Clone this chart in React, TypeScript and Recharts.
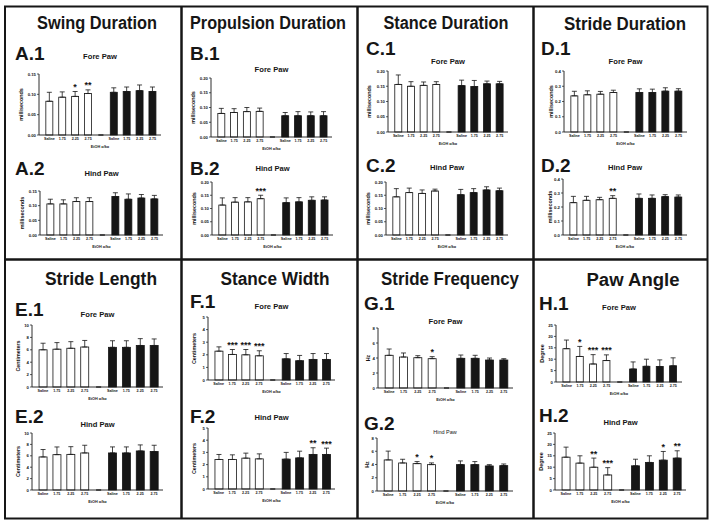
import React from 'react';
import { BarChart, Bar, XAxis, YAxis, ErrorBar } from 'recharts';

const doses = ['Saline', '1.75', '2.25', '2.75'];

// tick sets
const ticksMs15 = [0, 0.05, 0.1, 0.15];
const ticksMs20 = [0, 0.05, 0.1, 0.15, 0.2];
const ticksStride = [0, 0.1, 0.2, 0.3, 0.4];
const ticksLength = [0, 2, 4, 6, 8, 10];
const ticksWidth = [0, 1, 2, 3, 4, 5];
const ticksFreq = [0, 2, 4, 6, 8];
const ticksAngle = [0, 5, 10, 15, 20, 25];

// first 4 = white bars (saline + doses), last 4 = black bars
const swingForeMean = [0.083, 0.093, 0.095, 0.102, 0.105, 0.107, 0.109, 0.107];
const swingForeSd = [0.022, 0.013, 0.012, 0.009, 0.011, 0.011, 0.014, 0.011];
const swingForeSig = ['', '', '*', '**', '', '', '', ''];
const swingHindMean = [0.106, 0.106, 0.114, 0.114, 0.131, 0.122, 0.126, 0.123];
const swingHindSd = [0.016, 0.014, 0.013, 0.013, 0.013, 0.018, 0.012, 0.012];
const swingHindSig = ['', '', '', '', '', '', '', ''];

const propForeMean = [0.08, 0.083, 0.086, 0.087, 0.072, 0.072, 0.072, 0.072];
const propForeSd = [0.017, 0.013, 0.014, 0.011, 0.011, 0.014, 0.013, 0.014];
const propForeSig = ['', '', '', '', '', '', '', ''];
const propHindMean = [0.113, 0.124, 0.125, 0.137, 0.122, 0.125, 0.131, 0.132];
const propHindSd = [0.027, 0.017, 0.016, 0.013, 0.018, 0.016, 0.013, 0.012];
const propHindSig = ['', '', '', '***', '', '', '', ''];

const stanceForeMean = [0.156, 0.15, 0.153, 0.156, 0.152, 0.149, 0.158, 0.158];
const stanceForeSd = [0.031, 0.015, 0.011, 0.009, 0.018, 0.02, 0.009, 0.008];
const stanceForeSig = ['', '', '', '', '', '', '', ''];
const stanceHindMean = [0.144, 0.16, 0.157, 0.166, 0.152, 0.16, 0.17, 0.167];
const stanceHindSd = [0.031, 0.017, 0.013, 0.007, 0.02, 0.015, 0.012, 0.01];
const stanceHindSig = ['', '', '', '', '', '', '', ''];

const strideForeMean = [0.237, 0.244, 0.248, 0.259, 0.259, 0.259, 0.268, 0.268];
const strideForeSd = [0.03, 0.026, 0.018, 0.015, 0.024, 0.022, 0.022, 0.016];
const strideForeSig = ['', '', '', '', '', '', '', ''];
const strideHindMean = [0.231, 0.248, 0.252, 0.262, 0.262, 0.262, 0.274, 0.271];
const strideHindSd = [0.045, 0.028, 0.017, 0.019, 0.031, 0.024, 0.014, 0.015];
const strideHindSig = ['', '', '', '**', '', '', '', ''];

const lengthForeMean = [6.0, 6.1, 6.25, 6.45, 6.4, 6.4, 6.7, 6.7];
const lengthForeSd = [1.06, 1.06, 1.06, 1.06, 1.06, 1.06, 1.1, 1.05];
const lengthForeSig = ['', '', '', '', '', '', '', ''];
const lengthHindMean = [5.8, 6.2, 6.25, 6.5, 6.5, 6.5, 6.85, 6.75];
const lengthHindSd = [1.3, 1.35, 1.35, 1.35, 1.06, 1.06, 1.06, 1.1];
const lengthHindSig = ['', '', '', '', '', '', '', ''];

const widthForeMean = [2.29, 2.03, 2.0, 1.92, 1.68, 1.53, 1.63, 1.63];
const widthForeSd = [0.34, 0.39, 0.42, 0.4, 0.42, 0.42, 0.47, 0.47];
const widthForeSig = ['', '***', '***', '***', '', '', '', ''];
const widthHindMean = [2.42, 2.42, 2.53, 2.47, 2.45, 2.55, 2.83, 2.83];
const widthHindSd = [0.41, 0.38, 0.41, 0.41, 0.55, 0.55, 0.55, 0.52];
const widthHindSig = ['', '', '', '', '', '', '**', '***'];

const freqForeMean = [4.36, 4.13, 4.04, 3.91, 3.96, 3.96, 3.73, 3.73];
const freqForeSd = [0.84, 0.54, 0.27, 0.27, 0.44, 0.4, 0.27, 0.18];
const freqForeSig = ['', '', '', '*', '', '', '', ''];
const freqHindMean = [4.69, 4.23, 4.13, 3.98, 3.98, 3.98, 3.78, 3.83];
const freqHindSd = [1.33, 0.56, 0.31, 0.26, 0.56, 0.46, 0.2, 0.25];
const freqHindSig = ['', '', '*', '*', '', '', '', ''];

const angleForeMean = [14.6, 11.2, 7.9, 9.4, 5.7, 6.9, 6.8, 7.1];
const angleForeSd = [3.8, 4.4, 4.1, 2.5, 3.1, 3.1, 2.9, 3.5];
const angleForeSig = ['', '*', '***', '***', '', '', '', ''];
const angleHindMean = [14.4, 11.8, 10.0, 6.6, 10.6, 12.1, 13.1, 14.0];
const angleHindSd = [4.4, 3.2, 4.0, 3.2, 2.9, 2.9, 3.8, 3.2];
const angleHindSig = ['', '', '**', '***', '', '', '*', '**'];

const INK = '#161616';
const FONT = '"Liberation Sans", Arial, sans-serif';

type Row = { name: string; mean: number; err: [number, number]; sig: string; black: boolean };

function buildRows(mean: number[], sd: number[], sig: string[]): Row[] {
  const rows: Row[] = [];
  mean.forEach((m, i) => {
    if (i === 4) rows.push({ name: '', mean: 0, err: [0, 0], sig: '', black: false });
    rows.push({ name: doses[i % 4], mean: m, err: [0, sd[i]], sig: sig[i], black: i >= 4 });
  });
  return rows;
}

const BarShape = (p: any) => {
  const { x, y, width, height, payload } = p;
  if (!payload || !payload.mean || !height || height <= 0) return null;
  const k = height / payload.mean;
  const errTop = y - payload.err[1] * k;
  return (
    <g>
      <rect
        x={x}
        y={y}
        width={width}
        height={height}
        fill={payload.black ? INK : '#fff'}
        stroke={INK}
        strokeWidth={0.8}
      />
      {payload.sig ? (
        <text
          x={x + width / 2}
          y={errTop - 1.5}
          textAnchor="middle"
          fontSize={9}
          fontWeight="bold"
          fill={INK}
          style={{ fill: INK }}
        >
          {payload.sig}
        </text>
      ) : null}
    </g>
  );
};

type SubProps = {
  left: number; right: number; top: number; bottom: number;
  ticks: number[]; dec: number; yLabel: string; yl: number;
  mean: number[]; sd: number[]; sig: string[];
  sub: string; subY: number; subSize?: number;
};

const YW = 22;
const MT = 3;
const XH = 13;

function SubChart(s: SubProps) {
  const rows = buildRows(s.mean, s.sd, s.sig);
  const w = s.right - s.left + YW + 1;
  const h = s.bottom - s.top + MT + XH;
  const max = s.ticks[s.ticks.length - 1];
  return (
    <>
      <div
        style={{
          position: 'absolute',
          left: 0,
          width: (s.left + s.right),
          top: s.subY - (s.subSize ?? 7.6) * 0.82,
          textAlign: 'center',
          fontSize: s.subSize ?? 7.6,
          fontWeight: s.subSize ? 'normal' : 'bold',
          lineHeight: 1,
          color: INK,
          whiteSpace: 'nowrap',
        }}
      >
        {s.sub}
      </div>
      <div style={{ position: 'absolute', left: s.left - YW, top: s.top - MT }}>
        <BarChart
          width={w}
          height={h}
          data={rows}
          margin={{ top: MT, right: 1, bottom: 0, left: 0 }}
          barCategoryGap="22%"
        >
          <XAxis
            dataKey="name"
            interval={0}
            tickLine={false}
            tickSize={2}
            tickMargin={0.5}
            height={XH}
            padding={{ left: 4, right: 2 }}
            axisLine={{ stroke: INK, strokeWidth: 0.9 }}
            tick={{ fontSize: 3.7, fontWeight: 'bold', fill: INK }}
            label={{ value: 'EtOH g/kg', position: 'insideBottom', offset: 0, fontSize: 3.8, fontWeight: 'bold', fill: INK }}
          />
          <YAxis
            width={YW}
            domain={[0, max]}
            ticks={s.ticks}
            interval={0}
            tickSize={2}
            tickMargin={1}
            tickFormatter={(v: number) => v.toFixed(s.dec)}
            axisLine={{ stroke: INK, strokeWidth: 0.9 }}
            tickLine={{ stroke: INK, strokeWidth: 0.7 }}
            tick={{ fontSize: 4.3, fontWeight: 'bold', fill: INK }}
            label={{
              value: s.yLabel,
              angle: -90,
              position: 'insideLeft',
              offset: YW - s.yl,
              fontSize: 5.4,
              fontWeight: 'bold',
              fill: INK,
              style: { textAnchor: 'middle' },
            }}
          />
          <Bar dataKey="mean" shape={BarShape} isAnimationActive={false}>
            <ErrorBar dataKey="err" width={2.5} stroke={INK} strokeWidth={0.8} direction="y" />
          </Bar>
        </BarChart>
      </div>
    </>
  );
}

const subs: SubProps[] = [
  { left: 39, right: 161, top: 74, bottom: 135, ticks: ticksMs15, dec: 2, yLabel: 'milliseconds', yl: 18, mean: swingForeMean, sd: swingForeSd, sig: swingForeSig, sub: 'Fore Paw', subY: 59 },
  { left: 40, right: 163, top: 191, bottom: 235, ticks: ticksMs15, dec: 2, yLabel: 'milliseconds', yl: 18, mean: swingHindMean, sd: swingHindSd, sig: swingHindSig, sub: 'Hind  Paw', subY: 176 },
  { left: 211, right: 332, top: 78, bottom: 137, ticks: ticksMs20, dec: 2, yLabel: 'milliseconds', yl: 18, mean: propForeMean, sd: propForeSd, sig: propForeSig, sub: 'Fore Paw', subY: 72 },
  { left: 212, right: 333, top: 182, bottom: 235, ticks: ticksMs20, dec: 2, yLabel: 'milliseconds', yl: 18, mean: propHindMean, sd: propHindSd, sig: propHindSig, sub: 'Hind Paw', subY: 171 },
  { left: 388, right: 508, top: 71, bottom: 132, ticks: ticksMs20, dec: 2, yLabel: 'milliseconds', yl: 19, mean: stanceForeMean, sd: stanceForeSd, sig: stanceForeSig, sub: 'Fore Paw', subY: 64 },
  { left: 386, right: 508, top: 182, bottom: 235, ticks: ticksMs20, dec: 2, yLabel: 'milliseconds', yl: 18, mean: stanceHindMean, sd: stanceHindSd, sig: stanceHindSig, sub: 'Hind  Paw', subY: 170 },
  { left: 564, right: 687, top: 71, bottom: 132, ticks: ticksStride, dec: 1, yLabel: 'milliseconds', yl: 13, mean: strideForeMean, sd: strideForeSd, sig: strideForeSig, sub: 'Fore Paw', subY: 64 },
  { left: 563, right: 687, top: 179, bottom: 235, ticks: ticksStride, dec: 1, yLabel: 'milliseconds', yl: 13, mean: strideHindMean, sd: strideHindSd, sig: strideHindSig, sub: 'Hind Paw', subY: 170 },
  { left: 32, right: 163, top: 325, bottom: 387, ticks: ticksLength, dec: 0, yLabel: 'Centimeters', yl: 14, mean: lengthForeMean, sd: lengthForeSd, sig: lengthForeSig, sub: 'Fore Paw', subY: 317 },
  { left: 32, right: 163, top: 433, bottom: 490, ticks: ticksLength, dec: 0, yLabel: 'Centimeters', yl: 14, mean: lengthHindMean, sd: lengthHindSd, sig: lengthHindSig, sub: 'Hind Paw', subY: 427 },
  { left: 208, right: 335, top: 317, bottom: 380, ticks: ticksWidth, dec: 0, yLabel: 'Centimeters', yl: 14, mean: widthForeMean, sd: widthForeSd, sig: widthForeSig, sub: 'Fore Paw', subY: 309 },
  { left: 208, right: 335, top: 428, bottom: 489, ticks: ticksWidth, dec: 0, yLabel: 'Centimeters', yl: 14, mean: widthHindMean, sd: widthHindSd, sig: widthHindSig, sub: 'Hind Paw', subY: 420 },
  { left: 378, right: 513, top: 328, bottom: 388, ticks: ticksFreq, dec: 0, yLabel: 'Hz', yl: 10, mean: freqForeMean, sd: freqForeSd, sig: freqForeSig, sub: 'Fore Paw', subY: 324 },
  { left: 377, right: 513, top: 438, bottom: 491, ticks: ticksFreq, dec: 0, yLabel: 'Hz', yl: 10, mean: freqHindMean, sd: freqHindSd, sig: freqHindSig, sub: 'Hind Paw', subY: 435, subSize: 5.5 },
  { left: 556, right: 682, top: 325, bottom: 382, ticks: ticksAngle, dec: 0, yLabel: 'Degree', yl: 14, mean: angleForeMean, sd: angleForeSd, sig: angleForeSig, sub: 'Fore Paw', subY: 310 },
  { left: 555, right: 686, top: 433, bottom: 490, ticks: ticksAngle, dec: 0, yLabel: 'Degree', yl: 14, mean: angleHindMean, sd: angleHindSd, sig: angleHindSig, sub: 'Hind Paw', subY: 425 },
];

const titles = [
  { text: 'Swing Duration', x: 97, y: 29, w: 120 },
  { text: 'Propulsion Duration', x: 268, y: 29, w: 156 },
  { text: 'Stance Duration', x: 446, y: 29, w: 125 },
  { text: 'Stride Duration', x: 625, y: 30, w: 122 },
  { text: 'Stride Length', x: 101, y: 285, w: 112 },
  { text: 'Stance Width', x: 275, y: 285, w: 109 },
  { text: 'Stride Frequency', x: 450, y: 285, w: 138 },
  { text: 'Paw Angle', x: 633, y: 286, w: 93 },
];

const panelLabels = [
  { text: 'A.1', x: 15, y: 60 }, { text: 'A.2', x: 15, y: 175 },
  { text: 'B.1', x: 190, y: 60 }, { text: 'B.2', x: 190, y: 175 },
  { text: 'C.1', x: 366, y: 55 }, { text: 'C.2', x: 366, y: 172 },
  { text: 'D.1', x: 541, y: 55 }, { text: 'D.2', x: 541, y: 172 },
  { text: 'E.1', x: 15, y: 316 }, { text: 'E.2', x: 15, y: 423 },
  { text: 'F.1', x: 190, y: 308 }, { text: 'F.2', x: 190, y: 423 },
  { text: 'G.1', x: 364, y: 310 }, { text: 'G.2', x: 364, y: 430 },
  { text: 'H.1', x: 539, y: 310 }, { text: 'H.2', x: 539, y: 422 },
];

export default function App() {
  return (
    <div
      style={{
        position: 'absolute',
        left: 0,
        top: 0,
        width: 714,
        height: 526,
        background: '#fff',
        fontFamily: FONT,
        overflow: 'hidden',
      }}
    >
      <svg width={714} height={526} style={{ position: 'absolute', left: 0, top: 0 }} fontFamily={FONT}>
        <rect x={5} y={6.5} width={702.5} height={512} fill="none" stroke={INK} strokeWidth={2} />
        <line x1={181.5} y1={6} x2={181.5} y2={519} stroke={INK} strokeWidth={2.5} />
        <line x1={357.5} y1={6} x2={357.5} y2={519} stroke={INK} strokeWidth={2.5} />
        <line x1={533.5} y1={6} x2={533.5} y2={519} stroke={INK} strokeWidth={2.5} />
        <line x1={5} y1={259.5} x2={708} y2={259.5} stroke={INK} strokeWidth={2.5} />
        {titles.map((t) => (
          <text
            key={t.text}
            x={t.x}
            y={t.y}
            textAnchor="middle"
            fontSize={18}
            fontWeight="bold"
            fill={INK}
            textLength={t.w}
            lengthAdjust="spacingAndGlyphs"
          >
            {t.text}
          </text>
        ))}
        {panelLabels.map((l) => (
          <text key={l.text} x={l.x} y={l.y} fontSize={19} fontWeight="bold" fill={INK}>
            {l.text}
          </text>
        ))}
      </svg>
      {subs.map((s, i) => (
        <SubChart key={i} {...s} />
      ))}
    </div>
  );
}
